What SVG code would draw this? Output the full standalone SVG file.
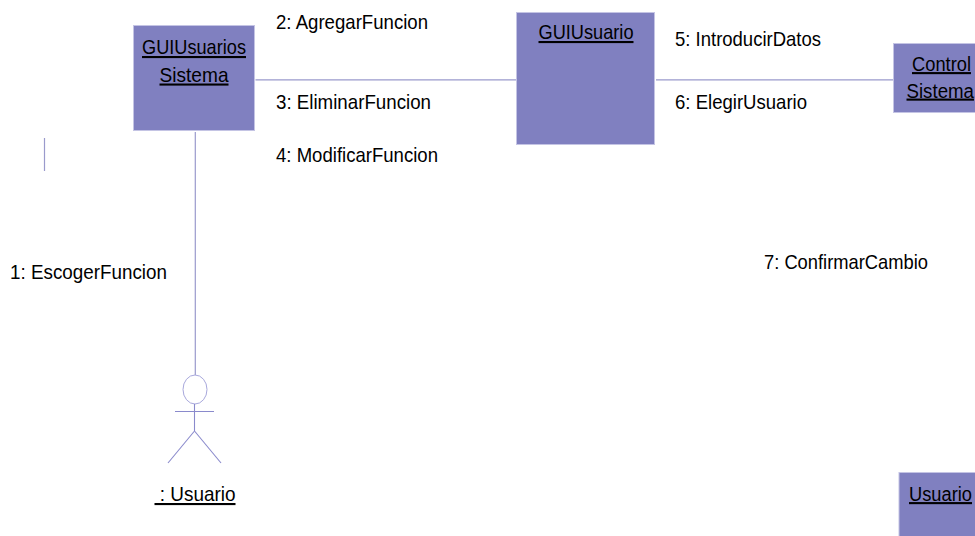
<svg xmlns="http://www.w3.org/2000/svg" width="975" height="536" viewBox="0 0 975 536">
<style>
.n{fill:#8080c0;stroke:#c4c4e4;stroke-width:1}
.c{stroke:#9a9acc;stroke-width:1.2;fill:none}
.a{stroke:#8a8acc;stroke-width:1.1;fill:none}
text{font-family:"Liberation Sans",Arial,sans-serif;font-size:21px;fill:#000}
.u{text-decoration:underline}
.m{text-anchor:middle}
</style>
<rect width="975" height="536" fill="#fff"/>
<g id="connectors">
<line class="c" x1="255.500" y1="79.800" x2="517" y2="79.800"/>
<line class="c" x1="656" y1="79.800" x2="893" y2="79.800"/>
<line class="c" x1="195.300" y1="132" x2="195.300" y2="375"/>
<line class="c" x1="44.500" y1="138" x2="44.500" y2="171"/>
</g>
<g id="GUIUsuariosSistema">
<rect class="n" x="133.500" y="25.500" width="121" height="105"/>
<text class="u m" x="194" y="54" textLength="104" lengthAdjust="spacingAndGlyphs">GUIUsuarios</text>
<text class="u m" x="194" y="81.500" textLength="69" lengthAdjust="spacingAndGlyphs">Sistema</text>
</g>
<g id="GUIUsuario">
<rect class="n" x="516.500" y="12.500" width="138" height="132"/>
<text class="u m" x="586" y="39" textLength="95" lengthAdjust="spacingAndGlyphs">GUIUsuario</text>
</g>
<g id="ControlSistema">
<rect class="n" x="893.500" y="43.500" width="90" height="69"/>
<text class="u" transform="translate(912 71) scale(.871 1)">Control</text>
<text class="u" transform="translate(906.500 97.500) scale(.89 1)">Sistema</text>
</g>
<g id="UsuarioBox">
<rect class="n" x="899" y="472.500" width="90" height="70"/>
<text class="u" transform="translate(909 501) scale(.871 1)">Usuario</text>
</g>
<g id="ActorUsuario">
<ellipse cx="195" cy="389.500" rx="12" ry="14.500" fill="#fff" stroke="#a8a8dc" stroke-width="1"/>
<line class="a" x1="194.500" y1="404" x2="194.500" y2="431"/>
<line class="a" x1="175" y1="411.500" x2="214" y2="411.500"/>
<line class="a" x1="194.500" y1="431" x2="168" y2="463"/>
<line class="a" x1="194.500" y1="431" x2="221" y2="463"/>
<text class="u" x="154.500" y="501" textLength="81" lengthAdjust="spacingAndGlyphs" xml:space="preserve"> : Usuario</text>
</g>
<g id="labels">
<text x="276" y="29" textLength="152" lengthAdjust="spacingAndGlyphs">2: AgregarFuncion</text>
<text x="276" y="108.500" textLength="155" lengthAdjust="spacingAndGlyphs">3: EliminarFuncion</text>
<text x="276" y="162" textLength="162" lengthAdjust="spacingAndGlyphs">4: ModificarFuncion</text>
<text x="675" y="46" textLength="146" lengthAdjust="spacingAndGlyphs">5: IntroducirDatos</text>
<text x="675" y="108.500" textLength="132" lengthAdjust="spacingAndGlyphs">6: ElegirUsuario</text>
<text x="764" y="269" textLength="164" lengthAdjust="spacingAndGlyphs">7: ConfirmarCambio</text>
<text x="10" y="279" textLength="157" lengthAdjust="spacingAndGlyphs">1: EscogerFuncion</text>
</g>
</svg>
